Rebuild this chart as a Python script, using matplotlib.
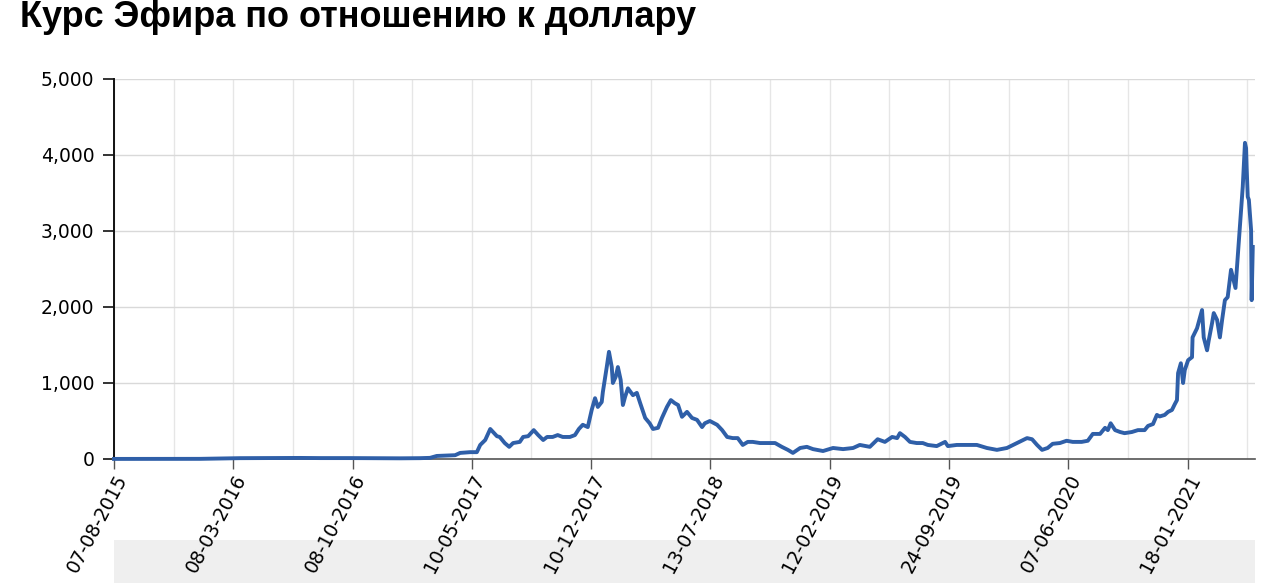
import matplotlib.pyplot as plt
import numpy as np
from matplotlib.patches import Rectangle
from matplotlib.ticker import FuncFormatter, MultipleLocator

TITLE = "Курс Эфира по отношению к доллару"

# x tick labels, one every 214 index steps (the source axis is an index, not a calendar)
tick_labels = [
    "07-08-2015", "08-03-2016", "08-10-2016", "10-05-2017", "10-12-2017",
    "13-07-2018", "12-02-2019", "24-09-2019", "07-06-2020", "18-01-2021",
]
TICK_STEP = 214

# point index along the series and ETH price in USD
day_idx = [
    0, 47, 100, 154, 199, 226, 280, 334, 370, 423, 477, 513, 549, 567, 579,
    594, 612, 621, 639, 651, 657, 666, 675, 680, 687, 692, 701, 709, 716, 728,
    734, 743, 753, 761, 770, 777, 787, 796, 805, 818, 827, 834, 841, 850, 857,
    863, 868, 875, 877, 884, 888, 893, 895, 900, 904, 909, 913, 917, 922, 931,
    938, 944, 953, 961, 967, 976, 983, 992, 999, 1006, 1012, 1019, 1028, 1037,
    1046, 1055, 1060, 1069, 1082, 1091, 1100, 1110, 1119, 1128, 1137, 1146,
    1159, 1171, 1186, 1198, 1209, 1218, 1231, 1243, 1254, 1272, 1290, 1308,
    1326, 1338, 1356, 1370, 1383, 1396, 1405, 1410, 1419, 1428, 1440, 1451,
    1460, 1476, 1491, 1496, 1512, 1530, 1548, 1566, 1584, 1602, 1620, 1638,
    1647, 1656, 1665, 1675, 1684, 1697, 1709, 1720, 1736, 1747, 1756, 1769,
    1778, 1783, 1788, 1796, 1805, 1813, 1826, 1837, 1849, 1855, 1864, 1871,
    1876, 1885, 1891, 1898, 1903, 1907, 1909, 1914, 1918, 1921, 1927, 1934,
    1935, 1943, 1946, 1952, 1955, 1961, 1964, 1970, 1973, 1979, 1984, 1988,
    1993, 1998, 2004, 2007, 2012, 2016, 2022, 2025, 2029, 2031, 2032, 2034,
    2036, 2040, 2041, 2043,
]
price_usd = [
    1, 1, 1, 2, 7, 11, 12, 14, 12, 12, 10, 9, 11, 15, 40,
    45, 50, 80, 90, 90, 185, 250, 395, 355, 300, 290, 210, 160, 210, 225,
    290, 300, 380, 315, 250, 290, 290, 315, 290, 290, 315, 395, 450, 420, 645,
    800, 685, 750, 880, 1210, 1410, 1210, 1000, 1080, 1210, 1040, 710, 820, 930, 840,
    870, 735, 540, 470, 395, 410, 540, 685, 775, 735, 710, 555, 620, 540,
    515, 420, 470, 500, 450, 380, 290, 275, 275, 185, 225, 225,
    210, 210, 210, 160, 120, 80, 145, 160, 130, 105, 145, 130,
    145, 185, 160, 260, 225, 290, 275, 340, 290, 225, 210, 210,
    185, 170, 225, 170, 185, 185, 185, 145, 120, 145, 210, 275,
    260, 185, 120, 145, 200, 210, 240, 225, 225, 240, 330, 330,
    410, 380, 470, 380, 355, 340, 355, 380, 380, 435, 460, 580,
    560, 580, 620, 645, 720, 775, 1130, 1260, 1000, 1170, 1300, 1340,
    1600, 1720, 1800, 1960, 1600, 1430, 1560, 1790, 1920, 1830, 1600, 1830,
    2090, 2130, 2490, 2400, 2250, 2660, 3280, 3580, 4160, 4090, 3840, 3450,
    3410, 3010, 2090, 2790,
]

W, H = 1280, 583
fig = plt.figure(figsize=(W / 100, H / 100), dpi=100)
fig.patch.set_facecolor("white")

# grey navigator strip under the chart (drawn behind the axes and its labels)
fig.patches.append(Rectangle((114 / W, 0), (1255 - 114) / W, (583 - 540) / H,
                             transform=fig.transFigure, facecolor="#efefef",
                             edgecolor="none", zorder=-5))

ax = fig.add_axes([114 / W, 1 - 459 / H, (1255 - 114) / W, (459 - 79) / H], zorder=1)
ax.set_facecolor("none")

ax.plot(day_idx, price_usd, color="#2f5fa8", lw=2.8, solid_joinstyle="round",
        clip_on=False, zorder=3)

ax.set_xlim(0, 2047)
ax.set_ylim(0, 5000)

ax.set_xticks([i * TICK_STEP for i in range(len(tick_labels))])
ax.set_xticklabels(tick_labels, rotation=62, ha="right", rotation_mode="anchor",
                   fontsize=13.5, family="DejaVu Sans")
ax.xaxis.set_minor_locator(MultipleLocator(TICK_STEP / 2))
ax.yaxis.set_major_locator(MultipleLocator(1000))
ax.yaxis.set_major_formatter(FuncFormatter(lambda v, _: f"{int(v):,}"))

ax.grid(True, axis="y", which="major", color="#d9d9d9", lw=1)
ax.grid(True, axis="x", which="both", color="#e6e6e6", lw=1)
ax.set_axisbelow(True)

for s in ("top", "right"):
    ax.spines[s].set_visible(False)
ax.spines["left"].set_color("#111111")
ax.spines["left"].set_linewidth(1.4)
ax.spines["bottom"].set_color("#555555")
ax.spines["bottom"].set_linewidth(1.2)
ax.tick_params(axis="y", length=8, width=1.2, color="#111111", pad=6, labelsize=13.5)
ax.tick_params(axis="x", which="major", length=7, width=1, color="#555555", pad=2)
ax.tick_params(axis="x", which="minor", length=0)

fig.text(20 / W, 1 - 27 / H, TITLE, fontsize=26, fontweight="bold",
         family="Liberation Sans", ha="left", va="baseline")

fig.savefig("out.png", dpi=100)
